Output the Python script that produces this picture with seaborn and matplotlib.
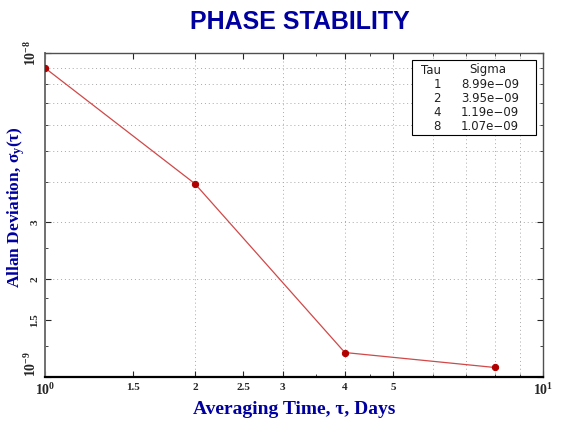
import matplotlib
matplotlib.use("Agg")
import matplotlib.pyplot as plt
import seaborn as sns
import pandas as pd
from matplotlib.patches import Rectangle

tau = [1, 2, 4, 8]
sigma = [8.99e-9, 3.95e-9, 1.19e-9, 1.07e-9]
x_tick_vals = [1, 1.5, 2, 2.5, 3, 4, 5, 10]
x_tick_labels = ["$\\mathbf{10^{0}}$", "1.5", "2", "2.5", "3", "4", "5", "$\\mathbf{10^{1}}$"]
y_tick_vals = [1e-9, 1.5e-9, 2e-9, 3e-9, 1e-8]
y_tick_labels = ["$\\mathbf{10^{-9}}$", "1.5", "2", "3", "$\\mathbf{10^{-8}}$"]
grid_mult = [2, 3, 4, 5, 6, 7, 8, 9]

sns.set_style("white")
plt.rcParams["font.family"] = ["Liberation Serif", "DejaVu Serif"]
plt.rcParams["mathtext.fontset"] = "custom"
plt.rcParams["mathtext.rm"] = "Liberation Serif"
plt.rcParams["mathtext.bf"] = "Liberation Serif:bold"
plt.rcParams["mathtext.it"] = "Liberation Serif:italic"

blue = "#0000A0"
df = pd.DataFrame({"tau": tau, "sigma": sigma})

fig = plt.figure(figsize=(5.68, 4.21), dpi=100)
ax = fig.add_axes([45 / 568, 1 - 377 / 421, 498 / 568, 324 / 421])
ax.set_xscale("log")
ax.set_yscale("log")
ax.set_xlim(1, 10)
ax.set_ylim(1e-9, 1e-8)

for m in grid_mult:
    ax.axvline(m, color="#a8a8a8", lw=0.7, ls=(0, (1, 3)), zorder=0)
    ax.axhline(m * 1e-9, color="#a8a8a8", lw=0.7, ls=(0, (1, 3)), zorder=0)

sns.lineplot(data=df, x="tau", y="sigma", ax=ax, color="#d04848", lw=0.9,
             marker="o", markersize=4.5, markerfacecolor="#b00000",
             markeredgecolor="#b00000", zorder=3)

ax.set_xticks(x_tick_vals)
ax.set_xticklabels(x_tick_labels, fontweight="bold")
ax.set_xticks([3.5, 4.5, 6, 7, 8, 9], minor=True)
ax.set_xticklabels([], minor=True)
ax.set_yticks(y_tick_vals)
ax.set_yticklabels(y_tick_labels, fontweight="bold", rotation=90, va="center")
ax.set_yticks([1.25e-9, 1.75e-9, 2.5e-9, 4e-9, 5e-9, 6e-9, 7e-9, 8e-9, 9e-9], minor=True)
ax.set_yticklabels([], minor=True)
for lab in ax.get_xticklabels():
    lab.set_fontsize(10 if "10" in lab.get_text() else 8)
ylabs = ax.get_yticklabels()
for lab in ylabs:
    lab.set_fontsize(10 if "10" in lab.get_text() else 8)
ylabs[0].set_va("bottom")

ax.tick_params(which="both", direction="in", top=True, right=True, left=True, bottom=True)
ax.tick_params(which="major", length=4, width=0.8, pad=4)
ax.tick_params(which="minor", length=2.5, width=0.6)
for s in ax.spines.values():
    s.set_color("#505050")
    s.set_linewidth(1.0)
ax.spines["bottom"].set_color("black")
ax.spines["bottom"].set_linewidth(1.6)
ax.spines["left"].set_color("#707070")
ax.spines["left"].set_linewidth(1.4)

ax.set_xlabel("Averaging Time, τ, Days", fontsize=14, fontweight="bold", color=blue, labelpad=2)
ax.set_ylabel("Allan Deviation, σ$_{\\mathbf{y}}$(τ)", fontsize=12.5, fontweight="bold", color=blue)
ax.yaxis.label.set_va("center")
ax.yaxis.set_label_coords(-29 / 498, 0.525)

fig.text(300 / 568, 1 - 22 / 421, "PHASE STABILITY", ha="center", va="center",
         fontsize=18, fontweight="bold", color=blue, family=["Liberation Sans"])

# Tau / Sigma table
x0, x1 = (412 - 45) / 498, (536 - 45) / 498
y0, y1 = (377 - 135) / 324, (377 - 60) / 324
ax.add_patch(Rectangle((x0, y0), x1 - x0, y1 - y0, transform=ax.transAxes,
                       facecolor="white", edgecolor="black", lw=0.8, zorder=5))
tf = dict(transform=ax.transAxes, fontsize=8.5, family=["DejaVu Sans"], zorder=6,
          va="center", color="#202020")
xt = (441 - 45) / 498
xs = (461 - 45) / 498
ax.text((431 - 45) / 498, (377 - 70) / 324, "Tau", ha="center", **tf)
ax.text((488 - 45) / 498, (377 - 70) / 324, "Sigma", ha="center", **tf)
for i, (t, s) in enumerate(zip(tau, sigma)):
    yy = (377 - (85 + 14 * i)) / 324
    ax.text(xt, yy, f"{t}", ha="right", **tf)
    ax.text(xs, yy, f"{s:.2e}".replace("-", "\u2212"), ha="left", **tf)

fig.savefig("out.png", dpi=100)
